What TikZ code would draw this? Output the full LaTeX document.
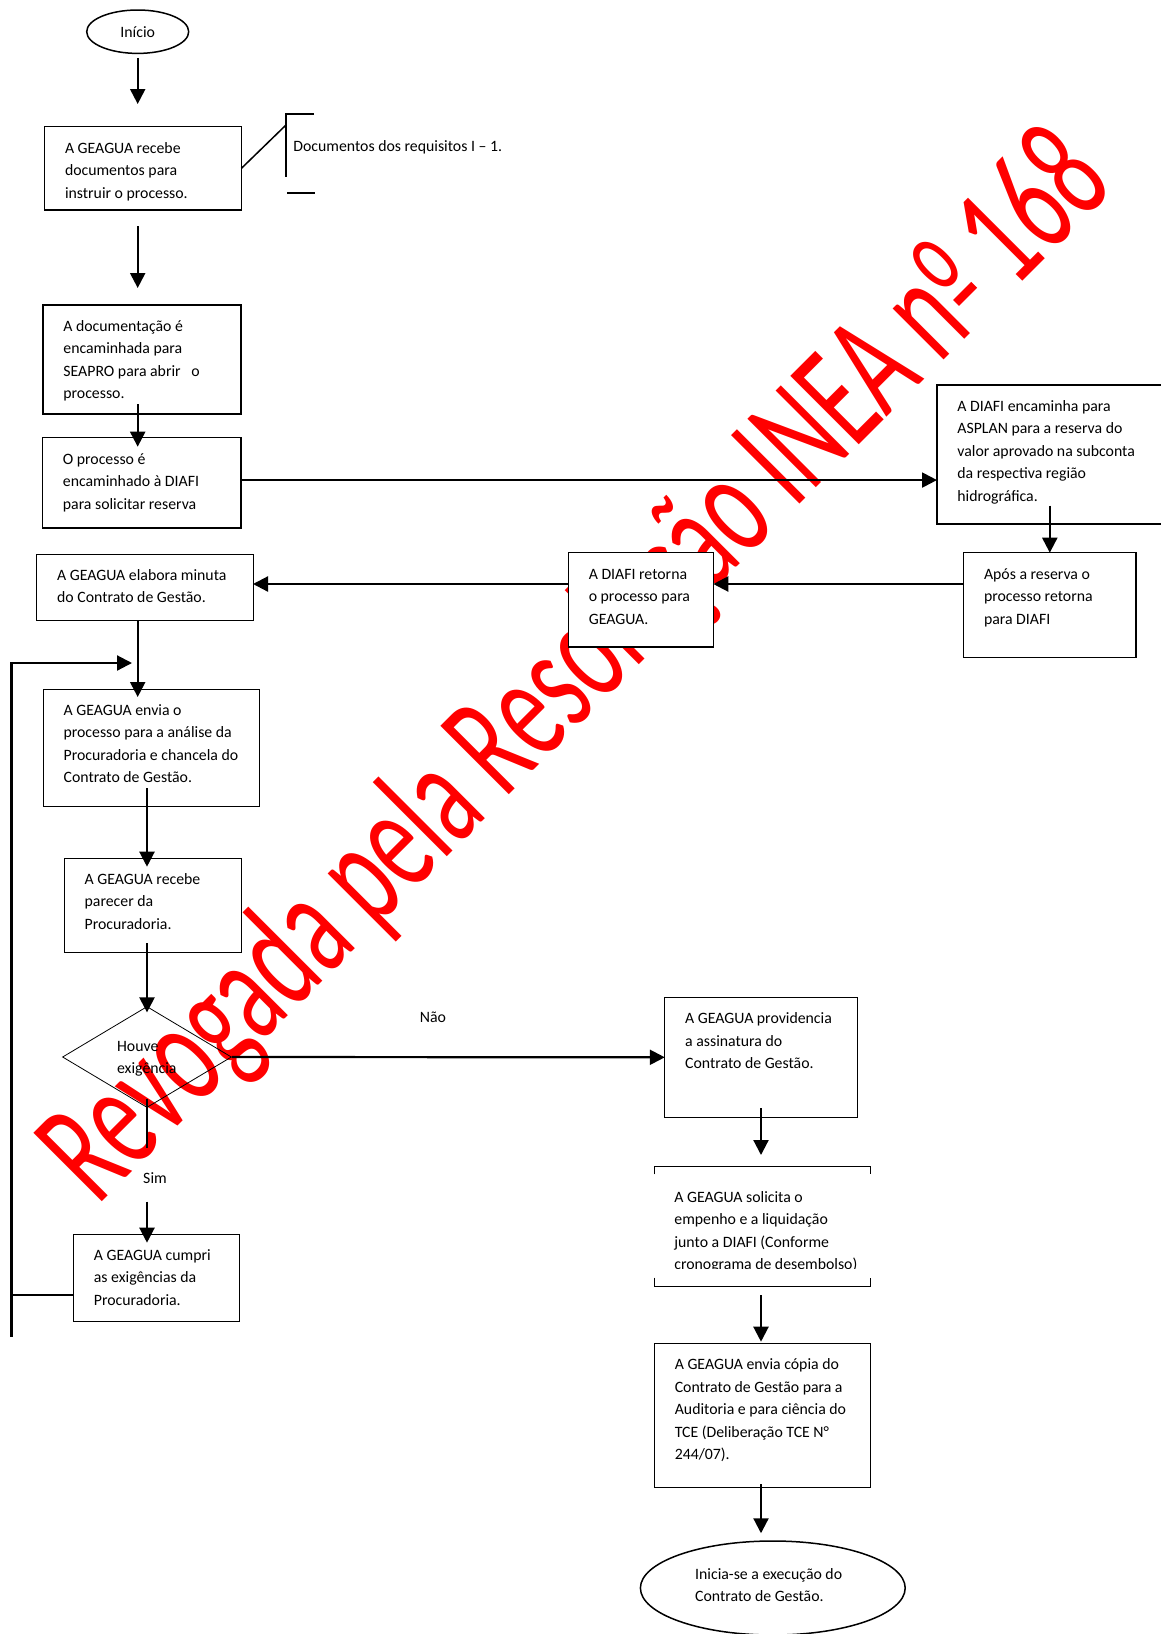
\documentclass[tikz,border=0pt]{standalone}
\usepackage{fontspec}
\setmainfont{Carlito}
\usepackage{graphicx}
\usetikzlibrary{shapes.geometric,arrows.meta}
\newcommand{\unid}{0.5pt}
% ordinal sign of the watermark
\newcommand{\ordinal}{\makebox[17pt][l]{\raisebox{14.3pt}{\fontsize{33}{33}\selectfont o}\llap{\rule[8.45pt]{12.5pt}{2.5pt}\kern2.5pt}}}
% caixa de processo: [estilo]{nome}{esq}{topo}{dir}{base}{texto}
\newcommand{\caixa}[7][grosso]{
	\node[caixa, #1, minimum width={(#5-#3)*\unid}, minimum height={(#6-#4)*\unid}] (#2) at ({(#3+#5)/2},{(#4+#6)/2}) {};
	\node[texto] (#2-t) at ([shift={(20,10.25)}]#2.north west) {\strut #7};
	}

\begin{document}
\begin{tikzpicture}[
      x=\unid, y=-\unid, %pixels of the page
      font=\fontsize{7.9}{11.25}\selectfont,
      caixa/.style={draw, rectangle, inner sep=0pt, outer sep=0pt},
      grosso/.style={line width=0.75pt},
      fino/.style={line width=0.5pt},
      texto/.style={anchor=north west, align=left, inner sep=0pt},
      seta/.style={line width=1.1pt, -{Triangle[length=7.5pt,width=7.5pt]}},
      linha/.style={line width=1.1pt},
      marca/.style={text=red, inner sep=0pt, anchor=base, rotate=45}
    ]
    \useasboundingbox (0,0) rectangle (1161,1634);
    %watermark behind the chart
    \node[marca] (marca) at (607,697) {\scalebox{1.025}[1.64]{\fontsize{46}{46}\selectfont Revogada pela Resolução INEA n\ordinal\ 168}};
    % Start
    \node[ellipse, draw, grosso, minimum width=51pt, minimum height=21.7pt, inner sep=0pt] (inicio) at (137.7,31.7) {Início};
    % Left column
    \caixa{recebe}{44.6}{126.7}{241.4}{210}{A GEAGUA recebe\\documentos para\\instruir o processo.}
    \caixa{doc}{43}{305}{241}{414}{A documentação é\\encaminhada para\\SEAPRO para abrir\ \ \ o\\processo.}
    \caixa{proc}{42.5}{437.7}{241}{528}{O processo é\\encaminhado à DIAFI\\para solicitar reserva}
    \caixa[fino]{minuta}{36.8}{554}{253}{620}{A GEAGUA elabora minuta\\do Contrato de Gestão.}
    \caixa[fino]{enviap}{43.2}{689}{259.5}{806.7}{A GEAGUA envia o\\processo para a análise da\\Procuradoria e chancela do\\Contrato de Gestão.}
    \caixa[fino]{parecer}{64.3}{858}{241}{952.7}{A GEAGUA recebe\\parecer da\\Procuradoria.}
    \caixa[fino]{cumpri}{73.5}{1234}{239}{1321.7}{A GEAGUA cumpri\\as exigências da\\Procuradoria.}
    % Right side
    \caixa{diafi}{937}{385}{1164}{524}{A DIAFI encaminha para\\ASPLAN para a reserva do\\valor aprovado na subconta\\da respectiva região\\hidrográfica.}
    \caixa{apos}{963.6}{552.7}{1136}{657.7}{Após a reserva o\\processo retorna\\para DIAFI}
    \caixa[grosso,fill=white]{retorna}{568.4}{552.7}{713.3}{647}{A DIAFI retorna\\o processo para\\GEAGUA.}
    \caixa[fino]{provid}{664.8}{997.3}{857.2}{1117.3}{A GEAGUA providencia\\a assinatura do\\Contrato de Gestão.}
    \caixa[fino]{copia}{654.4}{1343.3}{870.8}{1487.3}{A GEAGUA envia cópia do\\Contrato de Gestão para a\\Auditoria e para ciência do\\TCE (Deliberação TCE N°\\244/07).}
    % text box with hidden sides
    \node[caixa, draw=none, minimum width={216.4*\unid}, minimum height={120*\unid}] (solicita) at (762.6,1226) {};
    \draw[fino] ([yshift=-4.15pt]solicita.north west) -- (solicita.north west) -- (solicita.north east) -- ([yshift=-4.15pt]solicita.north east);
    \draw[fino] ([yshift=4.15pt]solicita.south west) -- (solicita.south west) -- (solicita.south east) -- ([yshift=4.15pt]solicita.south east);
    \begin{scope}
      \clip (solicita.north west) rectangle ([yshift=9pt]solicita.south east);
      \node[texto] (solicita-t) at ([shift={(19.6,19.95)}]solicita.north west) {\strut A GEAGUA solicita o\\empenho e a liquidação\\junto a DIAFI (Conforme\\cronograma de desembolso)};
    \end{scope}
    % Decision
    \node[diamond, draw, line width=0.4pt, minimum width=84.5pt, minimum height=50.5pt, inner sep=0pt] (exig) at (147,1057) {};
    \node[texto] (exig-t) at (116.7,1035) {\strut Houve\\exigência};
    \node (nao) at (433,1017) {Não};
    \node (sim) at (155,1178) {Sim};
    % End
    \node[ellipse, draw, grosso, minimum width=132.4pt, minimum height=47pt, inner sep=0pt] (fim) at (772.8,1588) {};
    \node[texto] (fim-t) at (694.8,1563.3) {\strut Inicia-se a execução do\\Contrato de Gestão.};
    % Note on the documents
    \node[anchor=west, inner sep=0pt] (req) at (293,147) {Documentos dos requisitos I -- 1.};
    \coordinate (colchete) at (286,125);
    \draw[grosso] (recebe.east) -- (colchete);
    \draw[grosso] (314,114) -| (286,177);
    \draw[grosso] (287,193) -- (315,193);
    % Arrows, left column
    \draw[seta, shorten <=1.85pt, shorten >=11.35pt] (inicio.south) -- (inicio.south |- recebe.north);
    \draw[seta, shorten <=8pt, shorten >=8.5pt] (inicio.south |- recebe.south) -- (inicio.south |- doc.north);
    \draw[seta, shorten <=-5pt, shorten >=-4.5pt] (inicio.south |- doc.south) -- (inicio.south |- proc.north);
    \draw[seta] ([yshift=1.4pt]proc.east) -- ([yshift=1.4pt]proc.east -| diafi.west);
    \draw[seta, shorten <=-9.15pt] (apos.north |- diafi.south) -- (apos.north);
    \coordinate (volta) at (0,584);
    \draw[seta] (apos.west |- volta) -- (retorna.east |- volta);
    \draw[seta] (retorna.west |- volta) -- (minuta.east |- volta);
    \draw[seta, shorten >=-4pt] (inicio.south |- minuta.south) -- (inicio.south |- enviap.north);
    % Loop back
    \coordinate (canto) at (11.5,663);
    \coordinate (pe) at (11.5,1336.7);
    \coordinate (chegada) at (132,663);
    \draw[seta] (pe) -- (canto) -- (chegada);
    \draw[linha] ([yshift=-8.5pt]cumpri.west) -- ([yshift=-8.5pt]cumpri.west -| canto);
    \draw[seta, shorten <=-9.35pt, shorten >=-4.35pt] (exig.north |- enviap.south) -- (exig.north |- parecer.north);
    \draw[seta, shorten <=-4.85pt, shorten >=-3.15pt] (exig.north |- parecer.south) -- (exig.north);
    \draw[seta] (exig.east) -- (provid.west);
    \draw[linha, shorten <=-4.35pt, shorten >=15pt] (exig.south) -- (exig.south |- sim);
    \draw[seta, shorten <=11.85pt, shorten >=-4.35pt] (exig.south |- sim) -- (exig.south |- cumpri.north);
    % Arrows, right column
    \draw[seta, shorten <=-4.65pt, shorten >=5.5pt] (provid.south) -- (provid.south |- solicita.north);
    \draw[seta, shorten <=4.5pt, shorten >=0.8pt] (provid.south |- solicita.south) -- (provid.south |- copia.north);
    \draw[seta, shorten <=-1.65pt, shorten >=3.5pt] (provid.south |- copia.south) -- (provid.south |- fim.north);
\end{tikzpicture}
\end{document}
